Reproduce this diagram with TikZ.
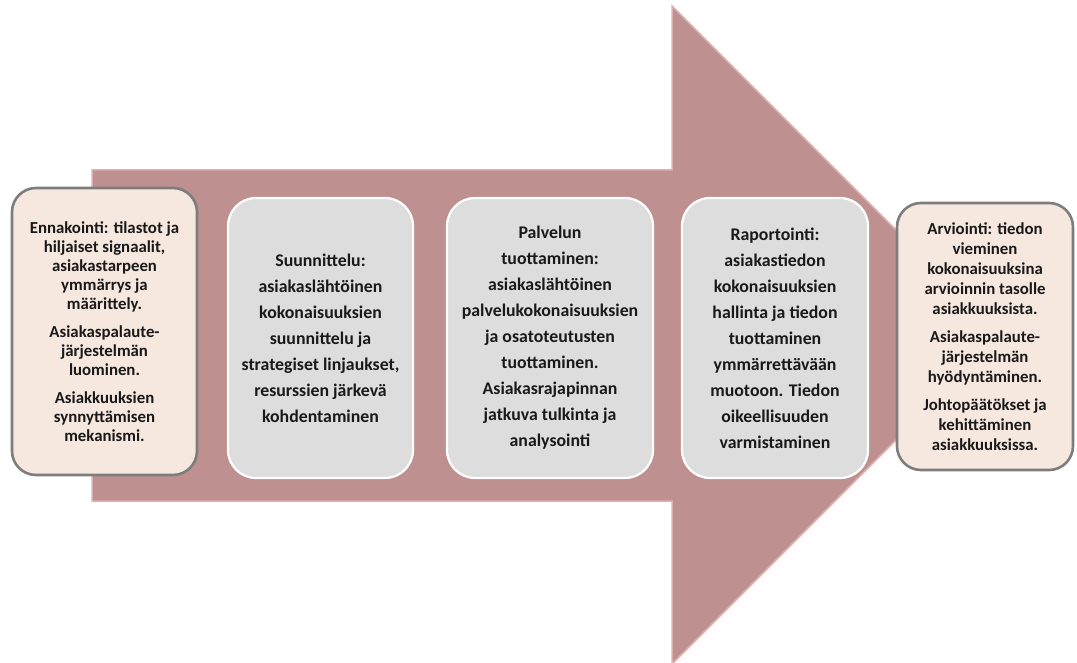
\documentclass[tikz,border=0pt]{standalone}
\usepackage{fontspec}
\setmainfont{Carlito}
\definecolor{arrowfill}{RGB}{190,144,144}
\definecolor{arrowedge}{RGB}{222,176,176}
\definecolor{peach}{RGB}{246,231,223}
\definecolor{peachedge}{RGB}{125,125,125}
\definecolor{grayfill}{RGB}{221,221,221}
\definecolor{txt}{RGB}{25,25,25}
\tikzset{
  outerbox/.style={draw=peachedge, line width=2.6pt, fill=peach, rounded corners=24pt,
    inner sep=0pt, align=center, text=txt},
  midbox/.style={draw=white, line width=2.2pt, fill=grayfill, rounded corners=28pt,
    inner sep=0pt, minimum height=280pt, align=center, text=txt,
    font=\fontsize{17.8}{26}\selectfont\bfseries},
}
\begin{document}
\begin{tikzpicture}[x=1pt,y=-1pt]
\useasboundingbox (0,0) rectangle (1077,663);
% big arrow
\fill[arrowfill, draw=arrowedge, line width=1.5pt]
  (92,170) -- (672,170) -- (672,6) -- (1001,335) -- (672,664) -- (672,501) -- (92,501) -- cycle;
% boxes
\node[outerbox, minimum width=185pt, minimum height=287pt,
      font=\fontsize{16.8}{19}\selectfont\bfseries] (ennak) at (104.5,331.5)
  {Ennakointi: tilastot ja\\ hiljaiset signaalit,\\ asiakastarpeen\\ ymmärrys ja\\ määrittely.\\[9pt]
   Asiakaspalaute-\\ järjestelmän\\ luominen.\\[9pt]
   Asiakkuuksien\\ synnyttämisen\\ mekanismi.};
\node[midbox, minimum width=185pt] (suun) at (320.5,338)
  {Suunnittelu:\\ asiakaslähtöinen\\ kokonaisuuksien\\ suunnittelu ja\\ strategiset linjaukset,\\ resurssien järkevä\\ kohdentaminen};
\node[midbox, minimum width=206pt] (palv) at (550,338)
  {Palvelun\\ tuottaminen:\\ asiakaslähtöinen\\ palvelukokonaisuuksien\\ ja osatoteutusten\\ tuottaminen.\\ Asiakasrajapinnan\\ jatkuva tulkinta ja\\ analysointi};
\node[midbox, minimum width=186pt] (rap) at (775,338)
  {Raportointi:\\ asiakastiedon\\ kokonaisuuksien\\ hallinta ja tiedon\\ tuottaminen\\ ymmärrettävään\\ muotoon. Tiedon\\ oikeellisuuden\\ varmistaminen};
\node[outerbox, minimum width=176pt, minimum height=267pt,
      font=\fontsize{16.8}{20}\selectfont\bfseries] (arvi) at (985,336.5)
  {Arviointi: tiedon\\ vieminen\\ kokonaisuuksina\\ arvioinnin tasolle\\ asiakkuuksista.\\[8pt]
   Asiakaspalaute-\\ järjestelmän\\ hyödyntäminen.\\[8pt]
   Johtopäätökset ja\\ kehittäminen\\ asiakkuuksissa.};
\end{tikzpicture}
\end{document}
